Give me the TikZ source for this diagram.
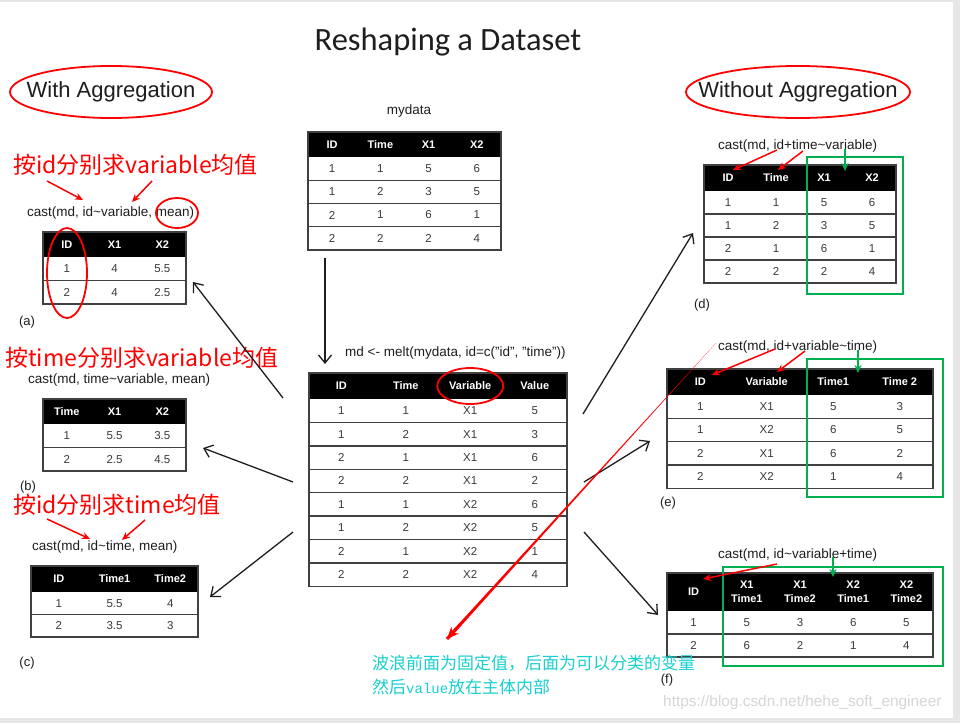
\documentclass[tikz,border=0pt]{standalone}
\usepackage{fontspec}
\setmainfont{Liberation Sans}
\setmonofont{Liberation Mono}
\newfontfamily\titlefont{Carlito}
\newfontfamily\cjk{Noto Sans CJK SC}
\usetikzlibrary{arrows.meta,calc}

\definecolor{slideGray}{HTML}{E6E6E6}
\definecolor{inkDark}{HTML}{1E1E1E}
\definecolor{cellInk}{HTML}{3A3A3A}
\definecolor{ruleInk}{HTML}{404040}
\definecolor{markRed}{HTML}{FF0000}
\definecolor{markGreen}{HTML}{00B050}
\definecolor{noteCyan}{HTML}{19CFCF}
\definecolor{wmGray}{HTML}{D6D6D6}

% name, left, top, column width, columns, head height, row height, head, rows
\newcommand{\drawtable}[9]{%
  \fill[tabhead] (#2,#3) rectangle ({#2+#5*#4},{#3+#6});
  \foreach \headv [count=\i] in {#8}
    \node[headcell] (#1-h\i) at ({#2+(\i-0.5)*#4},{#3+#6/2}) {\headv};
  \foreach \rowv [count=\j] in {#9} {
    \foreach \cellv [count=\i] in \rowv
      \node[bodycell] (#1-\j-\i) at ({#2+(\i-0.5)*#4},{#3+#6+(\j-0.5)*#7}) {\cellv};
    \draw[tabline] (#2,{#3+#6+\j*#7}) -- ({#2+#5*#4},{#3+#6+\j*#7});
    \xdef\nrows{\j}
  }
  \draw[tabline] (#2,#3) rectangle ({#2+#5*#4},{#3+#6+\nrows*#7});
}

\begin{document}
\begin{tikzpicture}[x=1pt, y=-1pt,
    headcell/.style={text=white, font=\bfseries\fontsize{11}{14}\selectfont, align=center, inner sep=0pt},
    bodycell/.style={text=cellInk, font=\fontsize{11.5}{13}\selectfont, inner sep=0pt},
    tabhead/.style={fill=black},
    tabline/.style={draw=ruleInk, line width=1.4pt},
    code/.style={anchor=west, inner sep=0pt, text=inkDark, font=\fontsize{13.5}{16}\selectfont},
    redtext/.style={anchor=west, inner sep=0pt, text=markRed, font=\cjk\fontsize{23}{28}\selectfont},
    tag/.style={inner sep=0pt, text=inkDark, font=\fontsize{13}{15}\selectfont},
    flow/.style={draw=inkDark, line width=1.3pt, -{Straight Barb[length=8pt,width=13pt]}},
    redarrow/.style={draw=markRed, line width=1.5pt, -{Stealth[length=8pt,width=7pt]}},
    greenarrow/.style={draw=markGreen, line width=1.5pt, -{Stealth[length=8pt,width=7pt]}},
    ring/.style={draw=markRed, line width=1.8pt},
    greenbox/.style={draw=markGreen, line width=1.8pt}]
  \useasboundingbox (0,0) rectangle (960,723);
  \fill[slideGray] (0,0) rectangle (960,723);
  \fill[white] (0,2) rectangle (953,718);

  %--- Tittel ---
  \node[text=inkDark, font=\titlefont\fontsize{32.5}{38}\selectfont] (title) at (448,42) {Reshaping a Dataset};
  \node[text=inkDark, font=\fontsize{22}{26}\selectfont] (withAgg) at (111,92) {With Aggregation};
  \draw[ring] (withAgg.center) ellipse [x radius=101, y radius=26];
  \node[text=inkDark, font=\fontsize{22}{26}\selectfont] (withoutAgg) at (798,92) {Without Aggregation};
  \draw[ring] (withoutAgg.center) ellipse [x radius=112, y radius=26];

  %--- mydata og melt ---
  \node[code, anchor=center] (mydataLbl) at (409,111) {mydata};
  \drawtable{mydata}{308}{132}{48.25}{4}{25}{23.2}{ID,Time,X1,X2}{{1,1,5,6},{1,2,3,5},{2,1,6,1},{2,2,2,4}}
  \coordinate (meltFrom) at (325,258);
  \coordinate (meltTo) at (325,364);
  \draw[flow] (meltFrom) -- (meltTo);
  \node[code] (meltCode) at (345,353) {md <- melt(mydata, id=c("id", "time"))};
  \drawtable{molten}{309}{373}{64.5}{4}{26}{23.4}{ID,Time,Variable,Value}{{1,1,X1,5},{1,2,X1,3},{2,1,X1,6},{2,2,X1,2},{1,1,X2,6},{1,2,X2,5},{2,1,X2,1},{2,2,X2,4}}
  \draw[ring] (molten-h3.center) ellipse [x radius=33, y radius=18];

  %--- Med aggregering (a) ---
  \node[redtext] (noteA) at (13,165) {按id分别求variable均值};
  \node[code] (castA) at (27,213) {cast(md, id\textasciitilde variable, mean)};
  \coordinate (a1s) at (47,181); \coordinate (a1e) at (83,200);
  \coordinate (a2s) at (152,181); \coordinate (a2e) at (132,202);
  \draw[redarrow] (a1s) -- (a1e);
  \draw[redarrow] (a2s) -- (a2e);
  \draw[ring] (177,213) ellipse [x radius=21, y radius=15];
  \drawtable{aggA}{43}{232}{47.7}{3}{25}{23.5}{ID,X1,X2}{{1,4,5.5},{2,4,2.5}}
  \draw[ring] (67,273) ellipse [x radius=20, y radius=45];
  \node[tag] (tagA) at (27,322) {(a)};

  %--- Med aggregering (b) ---
  \node[redtext] (noteB) at (5,358) {按time分别求variable均值};
  \node[code] (castB) at (28,380) {cast(md, time\textasciitilde variable, mean)};
  \drawtable{aggB}{43}{399}{47.7}{3}{25}{23.5}{Time,X1,X2}{{1,5.5,3.5},{2,2.5,4.5}}
  \node[tag] (tagB) at (28,487) {(b)};

  %--- Med aggregering (c) ---
  \node[redtext] (noteC) at (13,505) {按id分别求time均值};
  \node[code] (castC) at (32,547) {cast(md, id\textasciitilde time, mean)};
  \coordinate (c1s) at (47,519); \coordinate (c1e) at (90,539);
  \coordinate (c2s) at (145,520); \coordinate (c2e) at (122,540);
  \draw[redarrow] (c1s) -- (c1e);
  \draw[redarrow] (c2s) -- (c2e);
  \drawtable{aggC}{31}{566}{55.7}{3}{26}{22.5}{ID,Time1,Time2}{{1,5.5,4},{2,3.5,3}}
  \node[tag] (tagC) at (27,663) {(c)};

  %--- Piler fra molten ---
  \coordinate (toAs) at (283,398); \coordinate (toAe) at (193,282);
  \coordinate (toBs) at (293,482); \coordinate (toBe) at (203,448);
  \coordinate (toCs) at (293,532); \coordinate (toCe) at (210,597);
  \coordinate (toDs) at (583,414); \coordinate (toDe) at (693,233);
  \coordinate (toEs) at (584,482); \coordinate (toEe) at (650,441);
  \coordinate (toFs) at (584,532); \coordinate (toFe) at (658,615);
  \draw[flow] (toAs) -- (toAe);
  \draw[flow] (toBs) -- (toBe);
  \draw[flow] (toCs) -- (toCe);
  \draw[flow] (toDs) -- (toDe);
  \draw[flow] (toEs) -- (toEe);
  \draw[flow] (toFs) -- (toFe);

  %--- Uten aggregering (d) ---
  \node[code] (castD) at (718,146) {cast(md, id+time\textasciitilde variable)};
  \drawtable{wideD}{704}{165}{48}{4}{26}{23}{ID,Time,X1,X2}{{1,1,5,6},{1,2,3,5},{2,1,6,1},{2,2,2,4}}
  \draw[greenbox] (807,157) rectangle (903,294);
  \coordinate (d1s) at (777,150); \coordinate (d1e) at (733,170);
  \coordinate (d2s) at (803,151); \coordinate (d2e) at (778,170);
  \coordinate (d3s) at (845,149); \coordinate (d3e) at (845,171);
  \draw[redarrow] (d1s) -- (d1e);
  \draw[redarrow] (d2s) -- (d2e);
  \draw[greenarrow] (d3s) -- (d3e);
  \node[tag] (tagD) at (702,305) {(d)};

  %--- Uten aggregering (e) ---
  \node[code] (castE) at (718,347) {cast(md, id+variable\textasciitilde time)};
  \drawtable{wideE}{667}{369}{66.5}{4}{26}{23.3}{ID,Variable,Time1,Time 2}{{1,X1,5,3},{1,X2,6,5},{2,X1,6,2},{2,X2,1,4}}
  \draw[greenbox] (807,359) rectangle (943,497);
  \coordinate (e1s) at (775,349); \coordinate (e1e) at (712,375);
  \coordinate (e2s) at (805,351); \coordinate (e2e) at (777,372);
  \coordinate (e3s) at (858,350); \coordinate (e3e) at (858,373);
  \draw[redarrow] (e1s) -- (e1e);
  \draw[redarrow] (e2s) -- (e2e);
  \draw[greenarrow] (e3s) -- (e3e);
  \node[tag] (tagE) at (668,503) {(e)};

  %--- Uten aggregering (f) ---
  \node[code] (castF) at (718,555) {cast(md, id\textasciitilde variable+time)};
  \drawtable{wideF}{667}{573}{53.2}{5}{38}{23}{ID,{X1\\Time1},{X1\\Time2},{X2\\Time1},{X2\\Time2}}{{1,5,3,6,5},{2,6,2,1,4}}
  \draw[greenbox] (723,567) rectangle (943,666);
  \coordinate (f1s) at (777,564); \coordinate (f1e) at (703,579);
  \coordinate (f2s) at (833,557); \coordinate (f2e) at (833,577);
  \draw[redarrow] (f1s) -- (f1e);
  \draw[greenarrow] (f2s) -- (f2e);
  \node[tag] (tagF) at (667,680) {(f)};

  %--- Merknad ---
  \node[anchor=west, inner sep=0pt, text=noteCyan, font=\cjk\fontsize{17}{20}\selectfont] (noteL1) at (372,663) {波浪前面为固定值，后面为可以分类的变量};
  \node[anchor=west, inner sep=0pt, text=noteCyan, font=\cjk\fontsize{17}{20}\selectfont] (noteL2) at (372,687) {然后{\ttfamily\fontsize{14}{16}\selectfont value}放在主体内部};
  \node[anchor=west, inner sep=0pt, text=wmGray, font=\fontsize{15.4}{18}\selectfont] (watermark) at (663,703) {https://blog.csdn.net/hehe\_soft\_engineer};
  \coordinate (noteTail) at (716,343);
  \coordinate (noteTip) at (447,639);
  \fill[markRed] (noteTail) -- ($(noteTip)!1.6pt!90:(noteTail)$) -- ($(noteTip)!1.6pt!-90:(noteTail)$) -- cycle;
  \draw[markRed, line width=3pt, -{Stealth[length=12pt,width=10pt]}] ($(noteTip)!20pt!(noteTail)$) -- (noteTip);
\end{tikzpicture}
\end{document}
